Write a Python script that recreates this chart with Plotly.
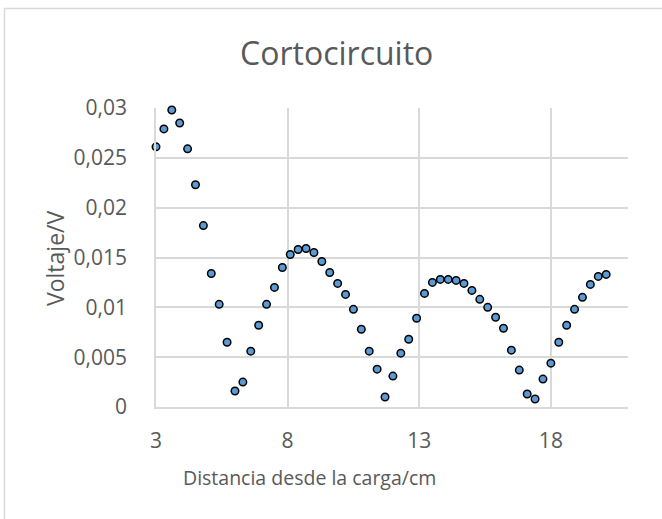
import plotly.graph_objects as go

# Distance from the load (cm) and measured voltage (V)
distancia_cm = [
    3.0, 3.3, 3.6, 3.9, 4.2, 4.5, 4.8, 5.1, 5.4, 5.7,
    6.0, 6.3, 6.6, 6.9, 7.2, 7.5, 7.8, 8.1, 8.4, 8.7,
    9.0, 9.3, 9.6, 9.9, 10.2, 10.5, 10.8, 11.1, 11.4, 11.7,
    12.0, 12.3, 12.6, 12.9, 13.2, 13.5, 13.8, 14.1, 14.4, 14.7,
    15.0, 15.3, 15.6, 15.9, 16.2, 16.5, 16.8, 17.1, 17.4, 17.7,
    18.0, 18.3, 18.6, 18.9, 19.2, 19.5, 19.8, 20.1,
]
voltaje_v = [
    0.0261, 0.0279, 0.0298, 0.0285, 0.0259, 0.0223, 0.0182, 0.0134, 0.0103, 0.0065,
    0.0016, 0.0025, 0.0056, 0.0082, 0.0103, 0.0120, 0.0140, 0.0153, 0.0158, 0.0159,
    0.0155, 0.0146, 0.0135, 0.0124, 0.0113, 0.0098, 0.0078, 0.0056, 0.0038, 0.0010,
    0.0031, 0.0054, 0.0068, 0.0089, 0.0114, 0.0125, 0.0128, 0.0128, 0.0127, 0.0124,
    0.0117, 0.0108, 0.0100, 0.0090, 0.0079, 0.0057, 0.0037, 0.0013, 0.0008, 0.0028,
    0.0044, 0.0065, 0.0082, 0.0098, 0.0110, 0.0123, 0.0131, 0.0133,
]

x_ticks = [3, 8, 13, 18]
x_tick_labels = ["3", "8", "13", "18"]
y_ticks = [0, 0.005, 0.01, 0.015, 0.02, 0.025, 0.03]
y_tick_labels = ["0", "0,005", "0,01", "0,015", "0,02", "0,025", "0,03"]

W, H = 662, 519
ML, MR, MT, MB = 156, 34, 108, 112
PW, PH = W - ML - MR, H - MT - MB

FONT = "Open Sans"
TEXT = "#595959"
GRID = "#D9D9D9"


def px(x):
    return (x - ML) / PW


def py(y):
    return (MT + PH - y) / PH


fig = go.Figure(
    go.Scatter(
        x=distancia_cm,
        y=voltaje_v,
        mode="markers",
        cliponaxis=False,
        marker=dict(size=7.5, color="#5B9BD5", line=dict(color="black", width=1.5)),
        showlegend=False,
    )
)

fig.update_xaxes(
    range=[3, 20.93],
    tickvals=x_ticks,
    ticktext=x_tick_labels,
    showgrid=True,
    gridcolor=GRID,
    gridwidth=1.5,
    zeroline=False,
    showline=True,
    linecolor=GRID,
    linewidth=1.5,
    ticks="",
    ticklabelstandoff=14,
    tickfont=dict(family=FONT, size=21, color=TEXT),
)
fig.update_yaxes(
    range=[0, 0.03],
    tickvals=y_ticks,
    ticktext=y_tick_labels,
    showgrid=True,
    gridcolor=GRID,
    gridwidth=1.5,
    zeroline=False,
    showline=True,
    linecolor=GRID,
    linewidth=1.5,
    ticks="",
    ticklabelstandoff=23,
    tickfont=dict(family=FONT, size=21, color=TEXT),
)

fig.update_layout(
    width=W,
    height=H,
    margin=dict(l=ML, r=MR, t=MT, b=MB),
    paper_bgcolor="white",
    plot_bgcolor="white",
    shapes=[
        dict(
            type="rect",
            xref="paper",
            yref="paper",
            x0=px(4.5),
            y0=py(600),
            x1=px(700),
            y1=py(8.5),
            line=dict(color=GRID, width=1.5),
            layer="below",
        )
    ],
    annotations=[
        dict(
            text="Cortocircuito",
            xref="paper", yref="paper",
            x=px(336.5), y=py(53),
            xanchor="center", yanchor="middle",
            showarrow=False,
            font=dict(family=FONT, size=32, color=TEXT),
        ),
        dict(
            text="Distancia desde la carga/cm",
            xref="paper", yref="paper",
            x=px(309), y=py(477),
            xanchor="center", yanchor="middle",
            showarrow=False,
            font=dict(family=FONT, size=19.5, color=TEXT),
        ),
        dict(
            text="Voltaje/V",
            xref="paper", yref="paper",
            x=px(55), y=py(259),
            xanchor="center", yanchor="middle",
            textangle=-90,
            showarrow=False,
            font=dict(family=FONT, size=23, color=TEXT),
        ),
    ],
)

fig.write_html("out.html")
